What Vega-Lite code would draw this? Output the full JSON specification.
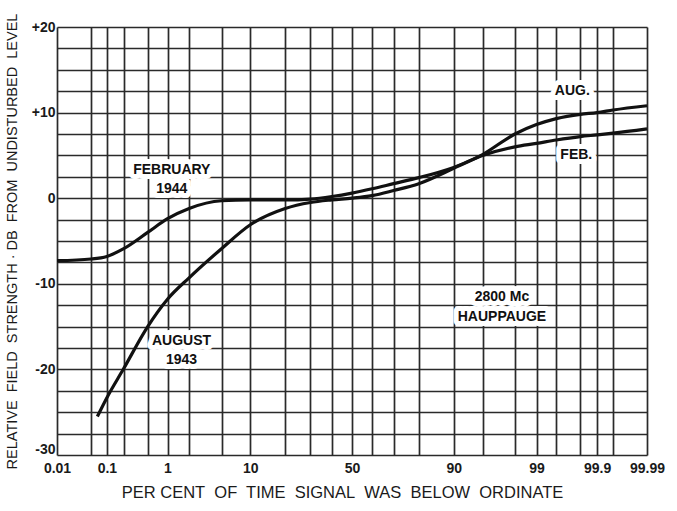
{
  "$schema": "https://vega.github.io/schema/vega-lite/v6.json",
  "width": 590,
  "height": 428,
  "autosize": {"type": "none"},
  "padding": {"left": 57, "top": 27, "right": 30, "bottom": 56},
  "background": "white",
  "config": {"view": {"stroke": null}, "font": "Liberation Sans"},
  "datasets": {
    "curves": [
      {"series": "February 1944", "pct": 0.01, "db": -7.3},
      {"series": "February 1944", "pct": 0.05, "db": -7.1},
      {"series": "February 1944", "pct": 0.1, "db": -6.8},
      {"series": "February 1944", "pct": 0.2, "db": -5.9},
      {"series": "February 1944", "pct": 0.5, "db": -4.0},
      {"series": "February 1944", "pct": 1, "db": -2.4},
      {"series": "February 1944", "pct": 2, "db": -1.2},
      {"series": "February 1944", "pct": 5, "db": -0.3},
      {"series": "February 1944", "pct": 10, "db": -0.2},
      {"series": "February 1944", "pct": 20, "db": -0.2},
      {"series": "February 1944", "pct": 30, "db": -0.1},
      {"series": "February 1944", "pct": 40, "db": 0.2},
      {"series": "February 1944", "pct": 50, "db": 0.6},
      {"series": "February 1944", "pct": 60, "db": 1.1},
      {"series": "February 1944", "pct": 70, "db": 1.7},
      {"series": "February 1944", "pct": 80, "db": 2.4},
      {"series": "February 1944", "pct": 90, "db": 3.6},
      {"series": "February 1944", "pct": 95, "db": 5.0},
      {"series": "February 1944", "pct": 98, "db": 6.0},
      {"series": "February 1944", "pct": 99, "db": 6.4},
      {"series": "February 1944", "pct": 99.5, "db": 6.8},
      {"series": "February 1944", "pct": 99.8, "db": 7.2},
      {"series": "February 1944", "pct": 99.9, "db": 7.4},
      {"series": "February 1944", "pct": 99.95, "db": 7.6},
      {"series": "February 1944", "pct": 99.99, "db": 8.1},
      {"series": "August 1943", "pct": 0.07, "db": -25.5},
      {"series": "August 1943", "pct": 0.1, "db": -23.3},
      {"series": "August 1943", "pct": 0.2, "db": -19.9},
      {"series": "August 1943", "pct": 0.5, "db": -15.0},
      {"series": "August 1943", "pct": 1, "db": -11.8},
      {"series": "August 1943", "pct": 2, "db": -9.3},
      {"series": "August 1943", "pct": 5, "db": -5.9},
      {"series": "August 1943", "pct": 10, "db": -3.1},
      {"series": "August 1943", "pct": 20, "db": -1.2},
      {"series": "August 1943", "pct": 30, "db": -0.5},
      {"series": "August 1943", "pct": 40, "db": -0.2},
      {"series": "August 1943", "pct": 50, "db": 0.0},
      {"series": "August 1943", "pct": 60, "db": 0.3},
      {"series": "August 1943", "pct": 70, "db": 0.9},
      {"series": "August 1943", "pct": 80, "db": 1.7},
      {"series": "August 1943", "pct": 90, "db": 3.5},
      {"series": "August 1943", "pct": 95, "db": 5.1},
      {"series": "August 1943", "pct": 98, "db": 7.5},
      {"series": "August 1943", "pct": 99, "db": 8.6},
      {"series": "August 1943", "pct": 99.5, "db": 9.3},
      {"series": "August 1943", "pct": 99.8, "db": 9.8},
      {"series": "August 1943", "pct": 99.9, "db": 10.0},
      {"series": "August 1943", "pct": 99.95, "db": 10.3},
      {"series": "August 1943", "pct": 99.99, "db": 10.8}
    ],
    "notes": [
      {"label": "FEBRUARY", "pct": 1.2, "db": 3.3},
      {"label": "1944", "pct": 1.2, "db": 1.1},
      {"label": "AUG.", "pct": 99.7, "db": 12.5},
      {"label": "FEB.", "pct": 99.75, "db": 5.0},
      {"label": "2800 Mc", "pct": 96.8, "db": -11.6},
      {"label": "HAUPPAUGE", "pct": 96.8, "db": -13.9},
      {"label": "AUGUST", "pct": 1.65, "db": -16.7},
      {"label": "1943", "pct": 1.65, "db": -18.9}
    ]
  },
  "encoding": {
    "x": {
      "field": "pct",
      "type": "quantitative",
      "scale": {
        "type": "linear",
        "nice": false,
        "zero": false,
        "domain": [0.01, 0.05, 0.1, 0.2, 0.5, 1, 2, 5, 10, 20, 30, 40, 50, 60, 70, 80, 90, 95, 98, 99, 99.5, 99.8, 99.9, 99.95, 99.99],
        "range": [0, 34.0, 49.9, 66.7, 90.7, 110.5, 132.1, 164.5, 193.3, 228.2, 253.4, 274.9, 295, 315.1, 336.6, 361.8, 396.7, 425.5, 457.9, 479.5, 499.3, 523.3, 540.1, 556.0, 590]
      },
      "axis": {
        "values": [0.01, 0.05, 0.1, 0.2, 0.5, 1, 2, 5, 10, 20, 30, 40, 50, 60, 70, 80, 90, 95, 98, 99, 99.5, 99.8, 99.9, 99.95, 99.99],
        "labelExpr": "indexof([0.01,0.1,1,10,50,90,99,99.9,99.99], datum.value) >= 0 ? '' + datum.value : ''",
        "grid": true,
        "gridColor": "#2a2a2a",
        "gridWidth": 1.7,
        "domain": false,
        "ticks": false,
        "labelOverlap": false,
        "labelFlush": false,
        "labelFont": "Liberation Sans",
        "labelFontSize": 14,
        "labelFontWeight": 600,
        "labelColor": "#1a1a1a",
        "labelPadding": 6,
        "title": "PER CENT\u00a0 OF\u00a0 TIME\u00a0 SIGNAL\u00a0 WAS\u00a0 BELOW\u00a0 ORDINATE",
        "titleFont": "Liberation Sans",
        "titleFontSize": 16.5,
        "titleFontWeight": "normal",
        "titleColor": "#1a1a1a",
        "titleX": 285,
        "titleY": 37,
        "titleBaseline": "middle",
        "titleAlign": "center"
      }
    },
    "y": {
      "field": "db",
      "type": "quantitative",
      "scale": {"domain": [-30, 20], "nice": false, "zero": false},
      "axis": {
        "values": [-30, -27.5, -25, -22.5, -20, -17.5, -15, -12.5, -10, -7.5, -5, -2.5, 0, 2.5, 5, 7.5, 10, 12.5, 15, 17.5, 20],
        "labelExpr": "datum.value % 10 == 0 ? (datum.value > 0 ? '+' + datum.value : '' + datum.value) : ''",
        "labelOffset": {"condition": {"test": "datum.value == -30", "value": -6}, "value": 0},
        "grid": true,
        "gridColor": "#2a2a2a",
        "gridWidth": 1.7,
        "domain": false,
        "ticks": false,
        "labelOverlap": false,
        "labelFlush": false,
        "labelFont": "Liberation Sans",
        "labelFontSize": 14,
        "labelFontWeight": 600,
        "labelColor": "#1a1a1a",
        "labelPadding": 2,
        "title": "RELATIVE\u00a0 FIELD\u00a0 STRENGTH · DB\u00a0 FROM\u00a0 UNDISTURBED\u00a0 LEVEL",
        "titleFont": "Liberation Sans",
        "titleFontSize": 14.5,
        "titleFontWeight": "normal",
        "titleColor": "#1a1a1a",
        "titleAngle": -90,
        "titleX": -45,
        "titleY": 214,
        "titleBaseline": "middle",
        "titleAlign": "center"
      }
    }
  },
  "layer": [
    {
      "data": {"name": "notes"},
      "mark": {"type": "text", "font": "Liberation Sans", "fontSize": 14, "fontWeight": "bold", "fill": "white", "stroke": "white", "strokeWidth": 10, "strokeJoin": "round"},
      "encoding": {"text": {"field": "label"}}
    },
    {
      "data": {"name": "curves"},
      "mark": {"type": "line", "interpolate": "monotone", "color": "#111111", "strokeWidth": 3.2},
      "encoding": {"detail": {"field": "series"}}
    },
    {
      "data": {"name": "notes"},
      "mark": {"type": "text", "font": "Liberation Sans", "fontSize": 14, "fontWeight": "bold", "color": "#111111"},
      "encoding": {"text": {"field": "label"}}
    }
  ]
}
